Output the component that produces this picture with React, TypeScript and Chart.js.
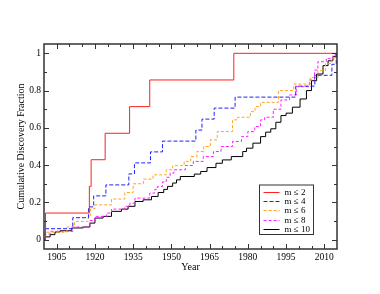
import React, { useEffect, useRef } from "react";
import { Chart, registerables } from "chart.js";

Chart.register(...registerables);

const SERIES_LABELS = ["m ≤ 2", "m ≤ 4", "m ≤ 6", "m ≤ 8", "m ≤ 10"];

const RED_YEARS = [1900, 1900.6, 1917.8, 1918.5, 1924, 1933.6, 1941.5, 1974.5, 2015];
const RED_VALUES = [0, 0.143, 0.286, 0.429, 0.571, 0.714, 0.857, 1.0, 1.0];

const BLUE_YEARS = [1900, 1900.5, 1911.3, 1917.5, 1919.5, 1924.3, 1933.3, 1935.5, 1941.8, 1946.5, 1959.6, 1962, 1966.8, 1975, 1998.8, 2006.3, 2013, 2014.7];
const BLUE_VALUES = [0, 0.059, 0.118, 0.176, 0.235, 0.294, 0.353, 0.412, 0.471, 0.529, 0.588, 0.647, 0.706, 0.765, 0.824, 0.882, 0.941, 1.0];

const ORANGE_YEARS = [1900, 1900.5, 1909, 1912, 1917.4, 1918.3, 1920, 1926.5, 1931.7, 1935, 1939, 1942.8, 1948, 1950.5, 1955, 1957.6, 1960, 1962.7, 1965.3, 1968, 1974, 1976, 1981, 1982.8, 1985, 1992, 1998, 2004.5, 2007.5, 2010.5, 2013, 2014.7];
const ORANGE_VALUES = [0, 0.04, 0.068, 0.098, 0.13, 0.166, 0.187, 0.218, 0.253, 0.3, 0.325, 0.348, 0.375, 0.397, 0.42, 0.446, 0.473, 0.5, 0.536, 0.58, 0.643, 0.657, 0.687, 0.714, 0.737, 0.8, 0.835, 0.87, 0.907, 0.945, 0.975, 1.0];

const MAGENTA_YEARS = [1900, 1900.5, 1902.4, 1911.4, 1918, 1920, 1924.6, 1926.5, 1931.7, 1933.7, 1935.7, 1941.5, 1943.5, 1944.5, 1946.5, 1948, 1949.5, 1951, 1955.5, 1958.6, 1962.5, 1966.5, 1969.5, 1974, 1977.5, 1980, 1982.7, 1985, 1986.6, 1990, 1993, 1996.4, 1999, 2004.2, 2006.2, 2007.5, 2010.8, 2013.4, 2014.7];
const MAGENTA_VALUES = [0, 0.03, 0.045, 0.068, 0.103, 0.125, 0.143, 0.164, 0.179, 0.196, 0.223, 0.25, 0.27, 0.285, 0.31, 0.335, 0.357, 0.375, 0.398, 0.42, 0.446, 0.473, 0.5, 0.527, 0.553, 0.58, 0.607, 0.643, 0.657, 0.7, 0.75, 0.777, 0.821, 0.857, 0.91, 0.955, 0.973, 0.991, 1.0];

const BLACK_YEARS = [1900, 1900.5, 1902.4, 1904.3, 1906.3, 1910.9, 1915.4, 1918, 1920, 1923.2, 1926.5, 1930.4, 1933, 1935.7, 1938.9, 1942.2, 1944.8, 1947, 1948.5, 1950.5, 1952, 1953.5, 1959, 1961.5, 1964, 1967.5, 1970, 1973.5, 1978, 1979.5, 1982, 1985, 1987, 1989, 1991, 1993, 1995, 1997.5, 2000.5, 2003, 2005, 2007, 2009.5, 2011.5, 2013.4, 2014.7];
const BLACK_VALUES = [0, 0.015, 0.027, 0.041, 0.048, 0.063, 0.068, 0.089, 0.116, 0.125, 0.152, 0.164, 0.179, 0.205, 0.214, 0.232, 0.253, 0.27, 0.286, 0.304, 0.321, 0.339, 0.352, 0.366, 0.387, 0.41, 0.428, 0.446, 0.473, 0.491, 0.518, 0.553, 0.577, 0.595, 0.63, 0.666, 0.679, 0.711, 0.755, 0.8, 0.853, 0.889, 0.934, 0.96, 0.982, 1.0];

const X_TICKS = [1905, 1920, 1935, 1950, 1965, 1980, 1995, 2010];
const X_MINOR = [1910, 1915, 1925, 1930, 1940, 1945, 1955, 1960, 1970, 1975, 1985, 1990, 2000, 2005];
const Y_TICKS = [0, 0.2, 0.4, 0.6, 0.8, 1];
const Y_MINOR = [0.1, 0.3, 0.5, 0.7, 0.9];

const SERIF = "Liberation Serif";

function pts(xs: number[], ys: number[]) {
  return xs.map((x, i) => ({ x, y: ys[i] }));
}

const framePlugin = {
  id: "frameTicks",
  afterDatasetsDraw(chart: any) {
    const { ctx, chartArea: a, scales } = chart;
    const xs = scales.x;
    const ys = scales.y;
    ctx.save();
    ctx.strokeStyle = "#333";
    ctx.lineWidth = 1;
    const line = (x0: number, y0: number, x1: number, y1: number) => {
      ctx.beginPath();
      ctx.moveTo(x0, y0);
      ctx.lineTo(x1, y1);
      ctx.stroke();
    };
    const major = 5;
    const minor = 3;
    for (const v of X_TICKS) {
      const p = Math.round(xs.getPixelForValue(v)) + 0.5;
      line(p, a.bottom, p, a.bottom - major);
      line(p, a.top, p, a.top + major);
    }
    for (const v of X_MINOR) {
      const p = Math.round(xs.getPixelForValue(v)) + 0.5;
      line(p, a.bottom, p, a.bottom - minor);
      line(p, a.top, p, a.top + minor);
    }
    for (const v of Y_TICKS) {
      const p = Math.round(ys.getPixelForValue(v)) + 0.5;
      line(a.left, p, a.left + major, p);
      line(a.right, p, a.right - major, p);
    }
    for (const v of Y_MINOR) {
      const p = Math.round(ys.getPixelForValue(v)) + 0.5;
      line(a.left, p, a.left + minor, p);
      line(a.right, p, a.right - minor, p);
    }
    ctx.lineWidth = 1.5;
    ctx.strokeRect(a.left, a.top, a.right - a.left, a.bottom - a.top);
    ctx.restore();
  },
};

const legendPlugin = {
  id: "insideLegend",
  afterDraw(chart: any) {
    const { ctx, chartArea: a } = chart;
    const right = a.right - 23.5;
    const bottom = a.bottom - 14.5;
    const w = 54;
    const h = 49.5;
    const left = right - w;
    const top = bottom - h;
    ctx.save();
    ctx.fillStyle = "#fff";
    ctx.fillRect(left, top, w, h);
    ctx.strokeStyle = "#333";
    ctx.lineWidth = 1;
    ctx.strokeRect(left, top, w, h);
    ctx.font = `9px "${SERIF}"`;
    ctx.textBaseline = "middle";
    ctx.textAlign = "left";
    chart.data.datasets.forEach((ds: any, i: number) => {
      const y = Math.round(top + 6.7 + i * 9.3) + 0.5;
      ctx.strokeStyle = ds.borderColor;
      ctx.lineWidth = ds.borderWidth;
      ctx.setLineDash(ds.borderDash || []);
      ctx.beginPath();
      ctx.moveTo(left + 4, y);
      ctx.lineTo(left + 20, y);
      ctx.stroke();
      ctx.setLineDash([]);
      ctx.fillStyle = "#000";
      ctx.fillText(ds.label, left + 25, y);
    });
    ctx.restore();
  },
};

export default function App() {
  const ref = useRef<HTMLCanvasElement | null>(null);
  useEffect(() => {
    if (!ref.current) return;
    const mk = (label: string, xs: number[], ys: number[], color: string, dash: number[]) => ({
      label,
      data: pts(xs, ys),
      borderColor: color,
      backgroundColor: color,
      borderWidth: 1,
      borderDash: dash,
      pointRadius: 0,
      fill: false,
      stepped: "before" as const,
    });
    const chart = new Chart(ref.current, {
      type: "line",
      data: {
        datasets: [
          mk(SERIES_LABELS[0], RED_YEARS, RED_VALUES, "#ff2020", []),
          mk(SERIES_LABELS[1], BLUE_YEARS, BLUE_VALUES, "#2020ff", [4, 2]),
          mk(SERIES_LABELS[2], ORANGE_YEARS, ORANGE_VALUES, "#ffa520", [3, 2]),
          mk(SERIES_LABELS[3], MAGENTA_YEARS, MAGENTA_VALUES, "#ff20ff", [3, 2]),
          mk(SERIES_LABELS[4], BLACK_YEARS, BLACK_VALUES, "#000000", []),
        ],
      },
      options: {
        animation: false,
        responsive: false,
        layout: { padding: { left: 15, top: 44, right: 43, bottom: 21 } },
        plugins: { legend: { display: false }, tooltip: { enabled: false } },
        scales: {
          x: {
            type: "linear",
            min: 1900,
            max: 2015,
            grid: { display: false, drawTicks: false },
            border: { display: false },
            afterBuildTicks: (s: any) => {
              s.ticks = X_TICKS.map((v) => ({ value: v }));
            },
            afterFit: (s: any) => {
              s.height = 24;
            },
            ticks: {
              font: { family: SERIF, size: 9.5 },
              color: "#000",
              padding: 3,
              maxRotation: 0,
              autoSkip: false,
              callback: (v: any) => String(v),
            },
            title: { display: true, text: "Year", font: { family: SERIF, size: 10 }, color: "#000", padding: 0 },
          },
          y: {
            type: "linear",
            min: -0.05,
            max: 1.05,
            grid: { display: false, drawTicks: false },
            border: { display: false },
            afterBuildTicks: (s: any) => {
              s.ticks = Y_TICKS.map((v) => ({ value: v }));
            },
            afterFit: (s: any) => {
              s.width = 29;
            },
            ticks: {
              font: { family: SERIF, size: 9.5 },
              color: "#000",
              padding: 3,
              autoSkip: false,
              callback: (v: any) => String(v),
            },
            title: {
              display: true,
              text: "Cumulative Discovery Fraction",
              font: { family: SERIF, size: 10 },
              color: "#000",
              padding: 0,
            },
          },
        },
      },
      plugins: [framePlugin, legendPlugin],
    });
    return () => chart.destroy();
  }, []);
  return (
    <div style={{ position: "fixed", left: 0, top: 0, width: 380, height: 294, background: "#fff" }}>
      <canvas ref={ref} width={380} height={294} />
    </div>
  );
}
